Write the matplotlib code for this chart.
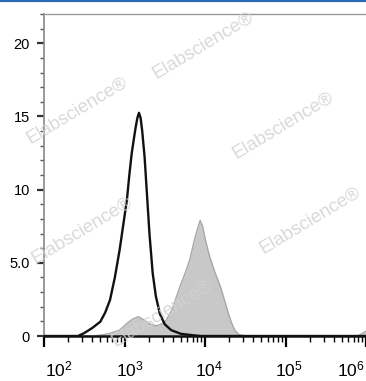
import numpy as np
import matplotlib
matplotlib.use("Agg")
import matplotlib.pyplot as plt
from matplotlib.lines import Line2D
from matplotlib.transforms import ScaledTranslation

plt.rcParams['font.family'] = ['Liberation Sans', 'DejaVu Sans']
plt.rcParams['mathtext.fontset'] = 'custom'
plt.rcParams['mathtext.rm'] = 'Liberation Sans'
plt.rcParams['mathtext.it'] = 'Liberation Sans'

# Data (log10 of fluorescence intensity, count)
black_log = [2.0, 2.42, 2.45, 2.50, 2.60, 2.70, 2.76, 2.82, 2.88, 2.94, 2.99, 3.03,
             3.06, 3.09, 3.12, 3.14, 3.16, 3.18, 3.20, 3.22, 3.25, 3.28, 3.31,
             3.35, 3.39, 3.44, 3.50, 3.58, 3.70, 3.85, 3.95, 6.02]
black_cnt = [0, 0, 0.07, 0.2, 0.55, 0.98, 1.6, 2.46, 4.0, 5.9, 7.8, 9.3,
             11.0, 12.5, 13.6, 14.3, 14.9, 15.25, 14.9, 14.0, 12.2, 9.6, 7.0,
             4.3, 2.7, 1.5, 0.8, 0.4, 0.15, 0.05, 0, 0]

gray_log = [2.0, 2.62, 2.80, 2.94, 3.03, 3.10, 3.17, 3.24, 3.32, 3.40, 3.47, 3.52,
            3.59, 3.69, 3.76, 3.81, 3.87, 3.90, 3.94, 3.97, 4.00, 4.03, 4.06, 4.12,
            4.19, 4.25, 4.29, 4.33, 4.37, 4.42, 4.50, 5.90, 5.96, 6.02]
gray_cnt = [0, 0, 0.15, 0.4, 0.87, 1.15, 1.32, 1.1, 0.8, 0.7, 0.85, 1.1,
            1.8, 3.4, 4.4, 5.2, 6.6, 7.2, 7.9, 7.5, 6.7, 6.0, 5.4, 4.4,
            3.4, 2.3, 1.55, 0.9, 0.4, 0.1, 0, 0, 0.2, 0.4]

y_ticks = [0, 5, 10, 15, 20]
y_labels = ["0", "5.0", "10", "15", "20"]
x_ticks = [1e2, 1e3, 1e4, 1e5, 1e6]
x_labels = ["$10^2$", "$10^3$", "$10^4$", "$10^5$", "$10^6$"]
watermark = "Elabscience\u00ae"

W, H = 366, 381
fig = plt.figure(figsize=(W / 100, H / 100), dpi=100)
ax = fig.add_axes([44 / W, 45 / H, 322 / W, 322 / H])

gx = 10 ** np.array(gray_log)
bx = 10 ** np.array(black_log)
ax.fill_between(gx, gray_cnt, 0, color='#c8c8c8', linewidth=0, zorder=1)
ax.plot(gx, gray_cnt, color='#a8a8a8', lw=1.0, zorder=2)
ax.plot(bx, black_cnt, color='#111111', lw=1.7, zorder=3)

ax.set_xscale('log')
ax.set_xlim(1e2, 10 ** 6.0)
ax.set_ylim(0, 22)

ax.set_yticks(y_ticks)
ax.set_yticklabels(y_labels)
ax.set_yticks(np.arange(0, 22.1, 1), minor=True)
ax.set_xticks(x_ticks)
ax.set_xticklabels(x_labels)

ax.tick_params(axis='y', which='major', length=5, width=1.6, labelsize=10.5, pad=5,
               color='#333333')
ax.tick_params(axis='y', which='minor', length=3, width=1.0, color='#555555')
ax.tick_params(axis='x', which='major', length=8, width=1.6, labelsize=12.5, pad=9)
ax.tick_params(axis='x', which='minor', length=4, width=1.0)

ax.spines['left'].set_color('#888888')
ax.spines['left'].set_linewidth(1.2)
ax.spines['bottom'].set_color('#111111')
ax.spines['bottom'].set_linewidth(1.8)
ax.spines['top'].set_color('#999999')
ax.spines['top'].set_linewidth(1.0)
ax.spines['right'].set_visible(False)

# shift x tick labels horizontally as in the reference
offsets_px = [15, 5, 4, 3, -15]
for lbl, dx in zip(ax.get_xticklabels(), offsets_px):
    lbl.set_transform(lbl.get_transform() + ScaledTranslation(dx / 100, 0, fig.dpi_scale_trans))

# watermarks (pixel centres in the picture)
wm = [(77, 110), (203, 45), (283, 125), (82, 230), (310, 220), (162, 313)]
for (x, y) in wm:
    fig.text(x / W, 1 - y / H, watermark, rotation=31, fontsize=13.5,
             color='#d2d2d2', alpha=0.85,
             ha='center', va='center', zorder=0.5)

fig.add_artist(Line2D([0, 1], [1 - 1 / H, 1 - 1 / H], transform=fig.transFigure,
                      color='#2a6db5', lw=1.6))

fig.savefig('out.png', dpi=100)
